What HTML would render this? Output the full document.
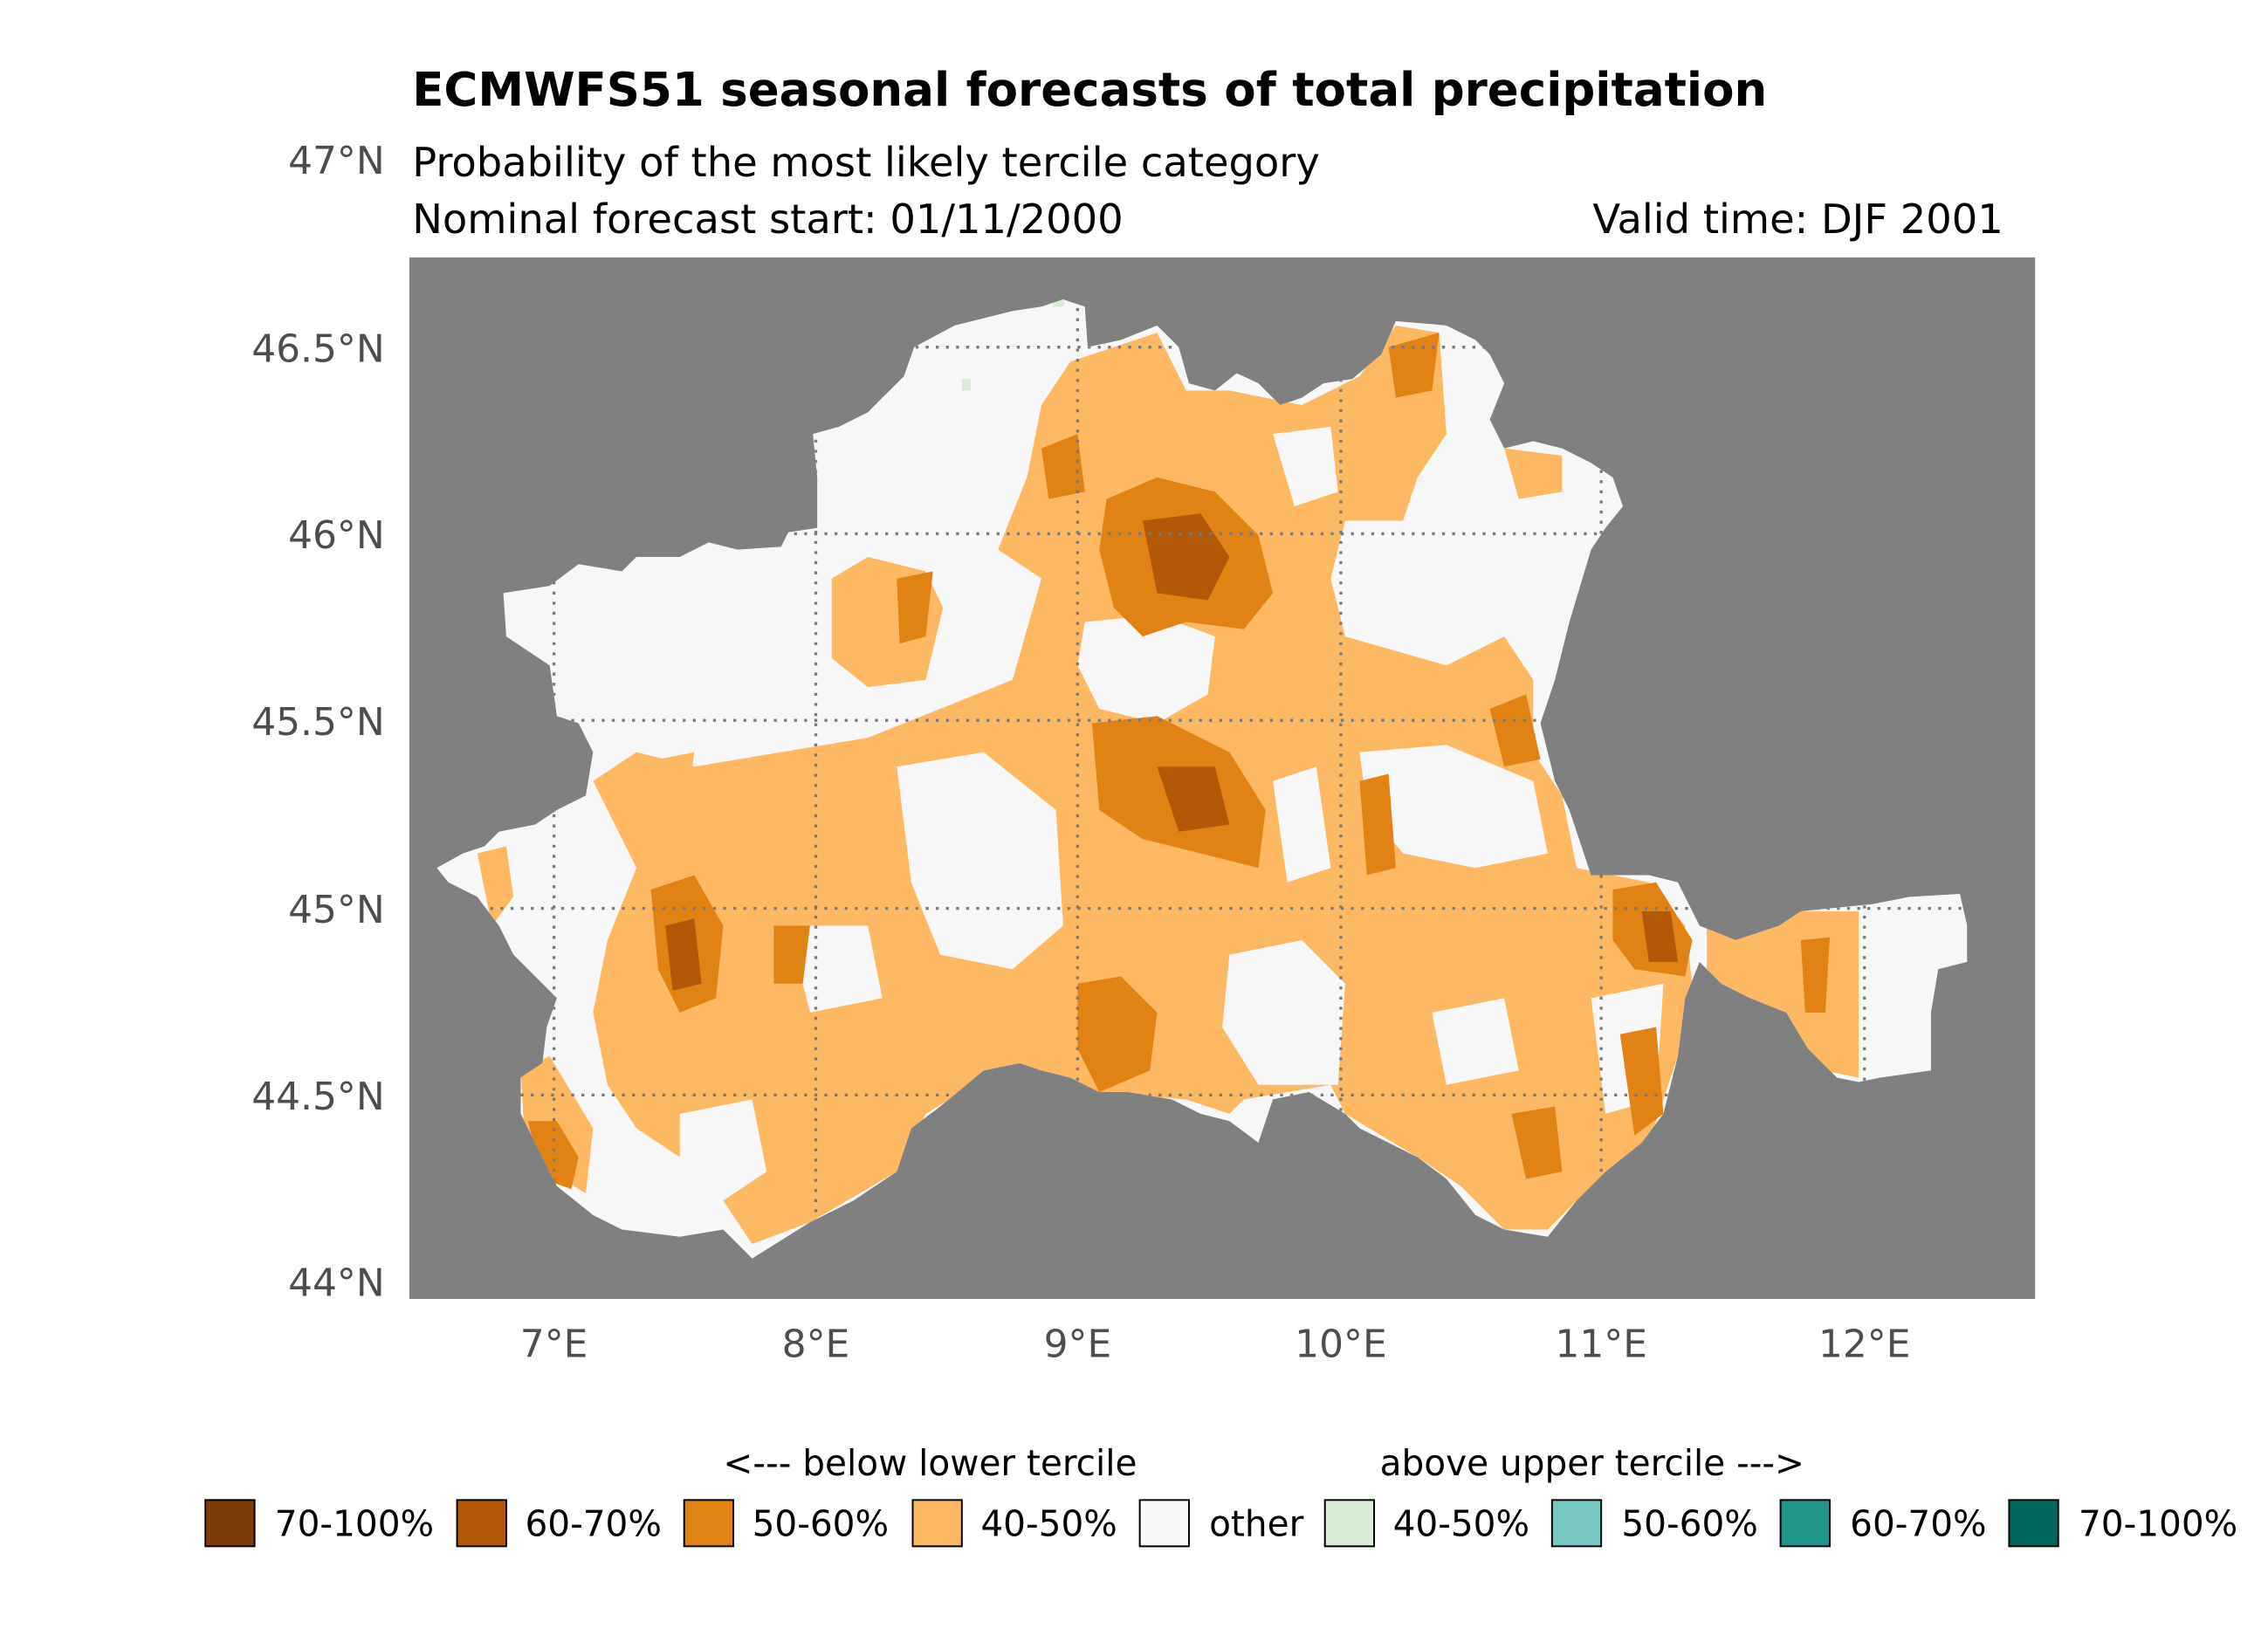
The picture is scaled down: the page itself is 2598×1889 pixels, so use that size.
<!DOCTYPE html>
<html><head><meta charset="utf-8"><style>
html,body{margin:0;padding:0;background:#fff;}
svg{display:block;}
text{font-family:"DejaVu Sans","Liberation Sans",sans-serif;}
</style></head><body>
<svg width="2598" height="1889" viewBox="0 0 1568 1140" preserveAspectRatio="none" xmlns="http://www.w3.org/2000/svg">
<defs>
<clipPath id="land"><path id="landp" d="M302,600 L320,590 L335,585 L345,575 L370,570 L385,560 L405,550 L410,520 L400,500 L385,495 L380,460 L350,440 L348,410 L380,405 L400,390 L430,395 L440,385 L470,385 L490,375 L510,380 L540,378 L545,368 L565,365 L565,330 L562,300 L580,295 L600,285 L610,275 L625,260 L632,240 L660,225 L700,215 L720,212 L735,207 L750,212 L752,240 L775,235 L800,225 L815,240 L822,265 L840,270 L855,258 L870,265 L885,280 L900,275 L915,265 L935,262 L955,245 L965,222 L1000,225 L1020,235 L1030,245 L1040,265 L1030,290 L1040,310 L1060,305 L1080,310 L1100,320 L1115,330 L1122,350 L1110,365 L1100,380 L1085,430 L1075,470 L1065,500 L1075,540 L1085,560 L1095,590 L1100,605 L1140,605 L1160,610 L1175,640 L1200,650 L1230,640 L1245,630 L1295,625 L1320,620 L1355,618 L1360,640 L1360,665 L1340,670 L1335,700 L1335,740 L1300,745 L1285,748 L1270,745 L1250,725 L1235,700 L1210,690 L1190,680 L1175,665 L1165,690 L1160,730 L1150,770 L1135,790 L1110,810 L1090,830 L1070,855 L1040,850 L1020,840 L1000,815 L980,800 L960,790 L940,780 L930,770 L905,755 L880,760 L870,790 L850,775 L830,770 L810,760 L780,755 L760,755 L740,745 L720,740 L705,735 L680,740 L650,765 L630,780 L620,810 L590,830 L560,845 L520,870 L500,850 L470,855 L430,850 L410,840 L385,820 L370,790 L360,770 L360,745 L375,735 L378,710 L385,690 L375,680 L355,660 L345,640 L330,620 L310,610 Z"/></clipPath>
</defs>
<text x="285" y="73" font-size="32" font-weight="bold">ECMWFS51 seasonal forecasts of total precipitation</text>
<text x="285" y="122" font-size="28">Probability of the most likely tercile category</text>
<text x="285" y="161" font-size="28">Nominal forecast start: 01/11/2000</text>
<text x="1385" y="161" font-size="28" text-anchor="end">Valid time: DJF 2001</text>
<rect x="283" y="178" width="1124" height="720" fill="#808080"/>
<g clip-path="url(#land)">
<rect x="283" y="178" width="1124" height="720" fill="#f7f7f7"/>
<g fill="#fdb863">
<path d="M410,540 L440,520 L480,530 L540,520 L600,510 L650,490 L700,470 L720,400 L690,380 L710,330 L720,280 L740,250 L800,230 L820,270 L850,270 L900,280 L940,260 L965,225 L995,230 L1000,300 L980,330 L970,360 L930,360 L920,400 L930,440 L1000,460 L1040,440 L1060,470 L1060,520 L1080,550 L1090,600 L1140,610 L1165,640 L1170,680 L1160,730 L1140,790 L1100,820 L1070,850 L1040,850 L1010,820 L980,800 L930,770 L920,750 L860,760 L850,770 L820,760 L760,755 L720,740 L690,740 L640,770 L620,810 L560,845 L520,860 L500,830 L470,800 L440,780 L420,750 L410,700 L420,650 L440,600 Z"/>
<path d="M575,400 L600,385 L640,395 L652,420 L640,470 L600,475 L575,455 Z"/>
<path d="M1180,640 L1240,630 L1285,630 L1285,745 L1260,740 L1240,710 L1200,690 L1180,670 Z"/>
<path d="M1040,310 L1080,315 L1080,340 L1050,345 Z"/>
<path d="M330,590 L350,585 L355,620 L340,640 Z"/>
<path d="M360,740 L380,730 L410,780 L405,825 L380,810 L362,775 Z"/>
<path d="M430,530 L480,520 L475,560 L440,565 Z"/>
</g>
<g fill="#f7f7f7">
<path d="M750,430 L800,425 L840,440 L835,480 L800,500 L760,490 L745,460 Z"/>
<path d="M540,440 L570,450 L570,510 L545,515 Z"/>
<path d="M620,530 L680,520 L730,560 L735,640 L700,670 L650,660 L630,610 Z"/>
<path d="M850,660 L900,650 L930,680 L925,750 L870,750 L845,710 Z"/>
<path d="M940,520 L1000,515 L1060,540 L1070,590 L1020,600 L970,590 L945,560 Z"/>
<path d="M470,770 L520,760 L530,810 L500,830 L470,810 Z"/>
<path d="M1100,690 L1150,680 L1145,760 L1110,770 Z"/>
<path d="M880,540 L910,530 L920,600 L890,610 Z"/>
<path d="M940,380 L1000,370 L1040,400 L1030,440 L980,450 L940,430 Z"/>
<path d="M880,300 L920,295 L925,340 L895,350 Z"/>
<path d="M545,640 L600,640 L610,690 L560,700 Z"/>
<path d="M990,700 L1040,690 L1050,740 L1000,750 Z"/>
<path d="M420,460 L480,450 L500,500 L440,515 Z"/>
</g>
<g fill="#e08214">
<path d="M765,345 L800,330 L840,340 L870,370 L880,410 L860,435 L820,430 L790,440 L770,420 L760,380 Z"/>
<path d="M755,500 L800,495 L850,520 L875,560 L870,600 L830,590 L790,580 L760,560 Z"/>
<path d="M450,615 L480,605 L500,640 L495,690 L470,700 L455,670 Z"/>
<path d="M1115,615 L1145,610 L1170,650 L1165,675 L1130,670 L1115,650 Z"/>
<path d="M745,680 L775,675 L800,700 L795,740 L760,755 L745,725 Z"/>
<path d="M365,775 L385,775 L400,800 L395,822 L375,815 Z"/>
<path d="M1030,490 L1055,480 L1065,525 L1040,530 Z"/>
<path d="M1120,715 L1145,710 L1150,770 L1130,785 Z"/>
<path d="M1045,770 L1075,765 L1080,810 L1055,815 Z"/>
<path d="M940,540 L960,535 L965,600 L945,605 Z"/>
<path d="M720,310 L745,300 L750,340 L725,345 Z"/>
<path d="M1245,650 L1265,648 L1262,700 L1248,700 Z"/>
<path d="M535,640 L560,640 L555,680 L535,680 Z"/>
<path d="M960,240 L995,230 L990,270 L965,275 Z"/>
<path d="M620,400 L645,395 L640,440 L622,445 Z"/>
</g>
<g fill="#b35806">
<path d="M790,360 L830,355 L850,385 L835,415 L800,410 Z"/>
<path d="M800,530 L840,530 L850,570 L815,575 Z"/>
<path d="M460,640 L480,635 L485,680 L465,685 Z"/>
<path d="M1135,630 L1155,630 L1160,665 L1140,665 Z"/>
</g>
<g fill="#d9ecd5"><rect x="665" y="262" width="6" height="8"/><rect x="728" y="206" width="8" height="6"/></g>
<g stroke="#7a7a7a" stroke-width="2" stroke-dasharray="2,5" fill="none">
<line x1="283" y1="240" x2="1407" y2="240"/><line x1="283" y1="369" x2="1407" y2="369"/>
<line x1="283" y1="498" x2="1407" y2="498"/><line x1="283" y1="628" x2="1407" y2="628"/>
<line x1="283" y1="757" x2="1407" y2="757"/>
<line x1="383" y1="178" x2="383" y2="898"/><line x1="564" y1="178" x2="564" y2="898"/>
<line x1="745" y1="178" x2="745" y2="898"/><line x1="927" y1="178" x2="927" y2="898"/>
<line x1="1107" y1="178" x2="1107" y2="898"/><line x1="1289" y1="178" x2="1289" y2="898"/>
</g>
</g>
<g font-size="26.5" fill="#4d4d4d" text-anchor="end">
<text x="266" y="120">47°N</text><text x="266" y="250">46.5°N</text><text x="266" y="379">46°N</text>
<text x="266" y="508">45.5°N</text><text x="266" y="638">45°N</text><text x="266" y="767">44.5°N</text>
<text x="266" y="896">44°N</text>
</g>
<g font-size="26.5" fill="#4d4d4d" text-anchor="middle">
<text x="383" y="938">7°E</text><text x="564" y="938">8°E</text><text x="745" y="938">9°E</text>
<text x="927" y="938">10°E</text><text x="1107" y="938">11°E</text><text x="1289" y="938">12°E</text>
</g>
<g font-size="24.5" fill="#000">
<text x="500" y="1020">&lt;--- below lower tercile</text>
<text x="954" y="1020">above upper tercile ---&gt;</text>
</g>
<g stroke="#000" stroke-width="1.2">
<rect x="142" y="1037" width="34" height="32" fill="#7f3b08"/>
<rect x="316" y="1037" width="34" height="32" fill="#b35806"/>
<rect x="473" y="1037" width="34" height="32" fill="#e08214"/>
<rect x="631" y="1037" width="34" height="32" fill="#fdb863"/>
<rect x="788" y="1037" width="34" height="32" fill="#f7f7f7"/>
<rect x="916" y="1037" width="34" height="32" fill="#d9ecd5"/>
<rect x="1073" y="1037" width="34" height="32" fill="#76c8c0"/>
<rect x="1231" y="1037" width="34" height="32" fill="#21958a"/>
<rect x="1389" y="1037" width="34" height="32" fill="#01665e"/>
</g>
<g font-size="24.5" fill="#000">
<text x="190" y="1062">70-100%</text><text x="363" y="1062">60-70%</text><text x="520" y="1062">50-60%</text>
<text x="678" y="1062">40-50%</text><text x="836" y="1062">other</text><text x="963" y="1062">40-50%</text>
<text x="1121" y="1062">50-60%</text><text x="1279" y="1062">60-70%</text><text x="1437" y="1062">70-100%</text>
</g>
</svg>
</body></html>
